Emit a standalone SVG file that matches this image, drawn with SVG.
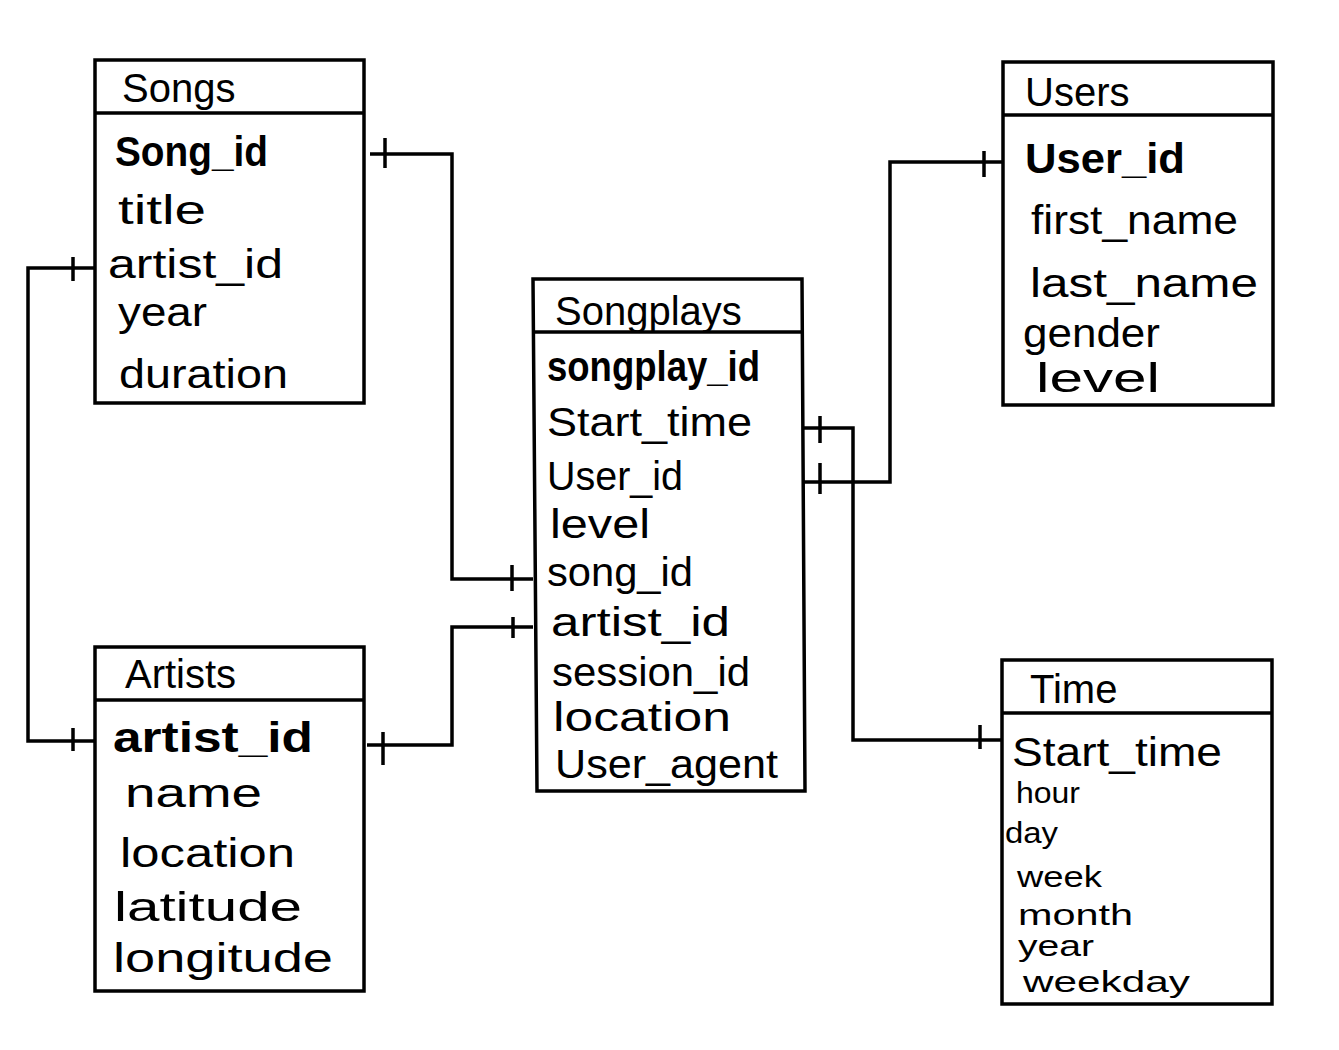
<svg xmlns="http://www.w3.org/2000/svg" width="1339" height="1050" viewBox="0 0 1339 1050">
<style>
.box{fill:#fff;stroke:#000;stroke-width:3.5}
.div{stroke:#000;stroke-width:3.5}
.title{font-family:"Liberation Sans",Arial,sans-serif;font-size:40px;fill:#000}
.f{font-family:"Liberation Sans",Arial,sans-serif;font-size:40px;fill:#000;font-weight:300}
.s{font-family:"Liberation Sans",Arial,sans-serif;font-size:30px;fill:#000;font-weight:300}
.k{font-family:"Liberation Sans",Arial,sans-serif;font-size:42px;fill:#000;font-weight:bold}
.c{fill:none;stroke:#000;stroke-width:3.5}
.t{stroke:#000;stroke-width:3.5}
</style>
<rect width="1339" height="1050" fill="#fff"/>
<g id="connectors">
  <path class="c" d="M370,154 H452 V579 H533"/>
  <line class="t" x1="385" y1="138" x2="385" y2="168"/>
  <line class="t" x1="512" y1="565" x2="512" y2="591"/>
  <path class="c" d="M95,268 H28 V741 H97"/>
  <line class="t" x1="73" y1="257" x2="73" y2="281"/>
  <line class="t" x1="73" y1="728" x2="73" y2="751"/>
  <path class="c" d="M367,745 H452 V627 H533"/>
  <line class="t" x1="383" y1="732" x2="383" y2="765"/>
  <line class="t" x1="513" y1="617" x2="513" y2="638"/>
  <path class="c" d="M802,428 H853 V740 H1002"/>
  <line class="t" x1="820" y1="416" x2="820" y2="443"/>
  <line class="t" x1="980" y1="725" x2="980" y2="749"/>
  <path class="c" d="M802,482 H890 V162 H1003"/>
  <line class="t" x1="820" y1="463" x2="820" y2="494"/>
  <line class="t" x1="984" y1="151" x2="984" y2="177"/>
</g>
<g id="songs">
  <rect class="box" x="95" y="60" width="269" height="343"/>
  <line class="div" x1="95" y1="113" x2="364" y2="113"/>
  <text class="title" x="122" y="102">Songs</text>
  <text class="k" x="115" y="166" textLength="153" lengthAdjust="spacingAndGlyphs">Song_id</text>
  <text class="f" x="118" y="224" textLength="88" lengthAdjust="spacingAndGlyphs">title</text>
  <text class="f" x="108" y="278" textLength="175" lengthAdjust="spacingAndGlyphs">artist_id</text>
  <text class="f" x="118" y="326" textLength="89" lengthAdjust="spacingAndGlyphs">year</text>
  <text class="f" x="119" y="388" textLength="169" lengthAdjust="spacingAndGlyphs">duration</text>
</g>
<g id="artists">
  <rect class="box" x="95" y="647" width="269" height="344"/>
  <line class="div" x1="95" y1="700" x2="364" y2="700"/>
  <text class="title" x="125" y="688">Artists</text>
  <text class="k" x="113" y="752" textLength="200" lengthAdjust="spacingAndGlyphs">artist_id</text>
  <text class="f" x="125" y="807" textLength="137" lengthAdjust="spacingAndGlyphs">name</text>
  <text class="f" x="120" y="867" textLength="175" lengthAdjust="spacingAndGlyphs">location</text>
  <text class="f" x="114" y="921" textLength="188" lengthAdjust="spacingAndGlyphs">latitude</text>
  <text class="f" x="113" y="972" textLength="220" lengthAdjust="spacingAndGlyphs">longitude</text>
</g>
<g id="songplays">
  <path class="box" d="M533,279 L802,279 L805,791 L537,791 Z"/>
  <line class="div" x1="533" y1="332" x2="802" y2="332"/>
  <text class="title" x="555" y="325">Songplays</text>
  <text class="k" x="547" y="381" textLength="213" lengthAdjust="spacingAndGlyphs">songplay_id</text>
  <text class="f" x="547" y="436" textLength="205" lengthAdjust="spacingAndGlyphs">Start_time</text>
  <text class="f" x="547" y="490" textLength="136" lengthAdjust="spacingAndGlyphs">User_id</text>
  <text class="f" x="550" y="538" textLength="100" lengthAdjust="spacingAndGlyphs">level</text>
  <text class="f" x="547" y="586" textLength="146" lengthAdjust="spacingAndGlyphs">song_id</text>
  <text class="f" x="551" y="636" textLength="179" lengthAdjust="spacingAndGlyphs">artist_id</text>
  <text class="f" x="552" y="686" textLength="198" lengthAdjust="spacingAndGlyphs">session_id</text>
  <text class="f" x="553" y="731" textLength="178" lengthAdjust="spacingAndGlyphs">location</text>
  <text class="f" x="555" y="778" textLength="223" lengthAdjust="spacingAndGlyphs">User_agent</text>
</g>
<g id="users">
  <rect class="box" x="1003" y="62" width="270" height="343"/>
  <line class="div" x1="1003" y1="115" x2="1273" y2="115"/>
  <text class="title" x="1025" y="106">Users</text>
  <text class="k" x="1025" y="173" textLength="160" lengthAdjust="spacingAndGlyphs">User_id</text>
  <text class="f" x="1031" y="234" textLength="207" lengthAdjust="spacingAndGlyphs">first_name</text>
  <text class="f" x="1030" y="297" textLength="228" lengthAdjust="spacingAndGlyphs">last_name</text>
  <text class="f" x="1023" y="347" textLength="137" lengthAdjust="spacingAndGlyphs">gender</text>
  <text class="f" x="1036" y="392" textLength="124" lengthAdjust="spacingAndGlyphs">level</text>
</g>
<g id="time">
  <rect class="box" x="1002" y="660" width="270" height="344"/>
  <line class="div" x1="1002" y1="713" x2="1272" y2="713"/>
  <text class="title" x="1030" y="703">Time</text>
  <text class="f" x="1012" y="766" textLength="210" lengthAdjust="spacingAndGlyphs">Start_time</text>
  <text class="s" x="1016" y="803" textLength="64" lengthAdjust="spacingAndGlyphs">hour</text>
  <text class="s" x="1005" y="843" textLength="53" lengthAdjust="spacingAndGlyphs">day</text>
  <text class="s" x="1017" y="887" textLength="85" lengthAdjust="spacingAndGlyphs">week</text>
  <text class="s" x="1018" y="925" textLength="115" lengthAdjust="spacingAndGlyphs">month</text>
  <text class="s" x="1018" y="956" textLength="76" lengthAdjust="spacingAndGlyphs">year</text>
  <text class="s" x="1023" y="992" textLength="167" lengthAdjust="spacingAndGlyphs">weekday</text>
</g>
</svg>
